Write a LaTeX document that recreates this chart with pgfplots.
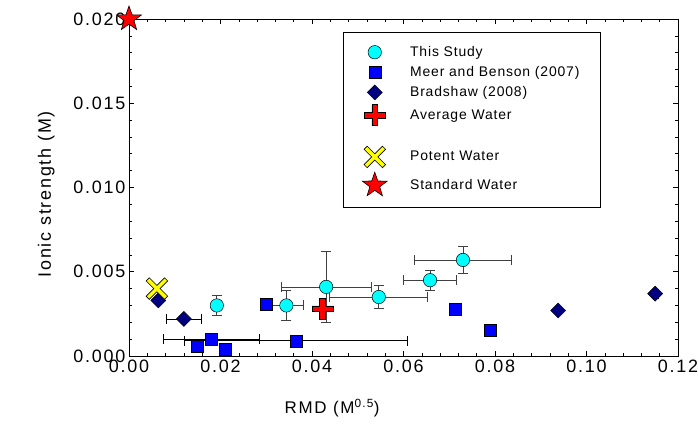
\documentclass[border=0pt]{standalone}
\usepackage{fontspec}
\setmainfont{Liberation Sans}[LetterSpace=10]
\newfontfamily\legfont{Liberation Sans}[LetterSpace=6]
\usepackage{pgfplots}
\usepackage{pgfplotstable}
\pgfplotsset{compat=1.18}
\definecolor{cyanc}{RGB}{0,255,255}
\definecolor{bluec}{RGB}{0,0,255}
\definecolor{navyc}{RGB}{0,0,128}
\definecolor{redc}{RGB}{255,0,0}
\definecolor{yellowc}{RGB}{255,255,0}
\definecolor{ebgray}{RGB}{64,64,64}

\pgfdeclareplotmark{fatplus}{%
  \pgfpathmoveto{\pgfpoint{-0.28\pgfplotmarksize}{\pgfplotmarksize}}%
  \pgfpathlineto{\pgfpoint{0.28\pgfplotmarksize}{\pgfplotmarksize}}%
  \pgfpathlineto{\pgfpoint{0.28\pgfplotmarksize}{0.28\pgfplotmarksize}}%
  \pgfpathlineto{\pgfpoint{\pgfplotmarksize}{0.28\pgfplotmarksize}}%
  \pgfpathlineto{\pgfpoint{\pgfplotmarksize}{-0.28\pgfplotmarksize}}%
  \pgfpathlineto{\pgfpoint{0.28\pgfplotmarksize}{-0.28\pgfplotmarksize}}%
  \pgfpathlineto{\pgfpoint{0.28\pgfplotmarksize}{-\pgfplotmarksize}}%
  \pgfpathlineto{\pgfpoint{-0.28\pgfplotmarksize}{-\pgfplotmarksize}}%
  \pgfpathlineto{\pgfpoint{-0.28\pgfplotmarksize}{-0.28\pgfplotmarksize}}%
  \pgfpathlineto{\pgfpoint{-\pgfplotmarksize}{-0.28\pgfplotmarksize}}%
  \pgfpathlineto{\pgfpoint{-\pgfplotmarksize}{0.28\pgfplotmarksize}}%
  \pgfpathlineto{\pgfpoint{-0.28\pgfplotmarksize}{0.28\pgfplotmarksize}}%
  \pgfpathclose\pgfusepathqfillstroke}
\pgfdeclareplotmark{thinplus}{%
  \pgfpathmoveto{\pgfpoint{-0.17\pgfplotmarksize}{\pgfplotmarksize}}%
  \pgfpathlineto{\pgfpoint{0.17\pgfplotmarksize}{\pgfplotmarksize}}%
  \pgfpathlineto{\pgfpoint{0.17\pgfplotmarksize}{0.17\pgfplotmarksize}}%
  \pgfpathlineto{\pgfpoint{\pgfplotmarksize}{0.17\pgfplotmarksize}}%
  \pgfpathlineto{\pgfpoint{\pgfplotmarksize}{-0.17\pgfplotmarksize}}%
  \pgfpathlineto{\pgfpoint{0.17\pgfplotmarksize}{-0.17\pgfplotmarksize}}%
  \pgfpathlineto{\pgfpoint{0.17\pgfplotmarksize}{-\pgfplotmarksize}}%
  \pgfpathlineto{\pgfpoint{-0.17\pgfplotmarksize}{-\pgfplotmarksize}}%
  \pgfpathlineto{\pgfpoint{-0.17\pgfplotmarksize}{-0.17\pgfplotmarksize}}%
  \pgfpathlineto{\pgfpoint{-\pgfplotmarksize}{-0.17\pgfplotmarksize}}%
  \pgfpathlineto{\pgfpoint{-\pgfplotmarksize}{0.17\pgfplotmarksize}}%
  \pgfpathlineto{\pgfpoint{-0.17\pgfplotmarksize}{0.17\pgfplotmarksize}}%
  \pgfpathclose\pgfusepathqfillstroke}
\pgfdeclareplotmark{fstar}{%
  \pgfpathmoveto{\pgfpointpolar{90}{\pgfplotmarksize}}%
  \pgfpathlineto{\pgfpointpolar{126}{0.40\pgfplotmarksize}}%
  \pgfpathlineto{\pgfpointpolar{162}{\pgfplotmarksize}}%
  \pgfpathlineto{\pgfpointpolar{198}{0.40\pgfplotmarksize}}%
  \pgfpathlineto{\pgfpointpolar{234}{\pgfplotmarksize}}%
  \pgfpathlineto{\pgfpointpolar{270}{0.40\pgfplotmarksize}}%
  \pgfpathlineto{\pgfpointpolar{306}{\pgfplotmarksize}}%
  \pgfpathlineto{\pgfpointpolar{342}{0.40\pgfplotmarksize}}%
  \pgfpathlineto{\pgfpointpolar{18}{\pgfplotmarksize}}%
  \pgfpathlineto{\pgfpointpolar{54}{0.40\pgfplotmarksize}}%
  \pgfpathclose\pgfusepathqfillstroke}

% markers
\pgfplotstableread{
x y
0.0192 0.0030
0.0344 0.0030
0.0431 0.0041
0.0546 0.0035
0.0658 0.0045
0.0730 0.0057
}\thisstudy
\pgfplotstableread{
x y
0.0149 0.0006
0.0179 0.0010
0.0210 0.0004
0.0300 0.0031
0.0365 0.0009
0.0713 0.0028
0.0789 0.0015
}\meer
\pgfplotstableread{
x y
0.0064 0.0033
0.0120 0.0022
0.0938 0.0027
0.1150 0.0037
}\bradshaw
% error bar end points (vertical bars of This Study)
\pgfplotstableread{
x y
0.0192 0.0024
0.0192 0.0036
nan nan
0.0344 0.0021
0.0344 0.0039
nan nan
0.0431 0.0020
0.0431 0.0062
nan nan
0.0546 0.0028
0.0546 0.0042
nan nan
0.0658 0.0039
0.0658 0.0051
nan nan
0.0730 0.0049
0.0730 0.0065
}\tsyerr
% horizontal bars of This Study
\pgfplotstableread{
x y
0.0308 0.0030
0.0380 0.0030
nan nan
0.0333 0.0041
0.0529 0.0041
nan nan
0.0439 0.0035
0.0653 0.0035
nan nan
0.0600 0.0045
0.0716 0.0045
nan nan
0.0624 0.0057
0.0836 0.0057
}\tsxerr
% horizontal bars of Meer and Benson and Bradshaw
\pgfplotstableread{
x y
0.0074 0.0010
0.0284 0.0010
nan nan
0.0121 0.0009
0.0609 0.0009
nan nan
0.0082 0.0022
0.0158 0.0022
nan nan
0.1144 0.0037
0.1156 0.0037
}\otherxerr

\begin{document}
\begin{tikzpicture}
\begin{axis}[
  scale only axis, width=549bp, height=337bp,
  xmin=0, xmax=0.12, ymin=0, ymax=0.020,
  xtick={0,0.02,0.04,0.06,0.08,0.10,0.12},
  ytick={0,0.005,0.010,0.015,0.020},
  minor x tick num=4, minor y tick num=4,
  tick align=inside,
  major tick length=5bp, minor tick length=3bp,
  tick style={black, line width=0.6bp},
  scaled ticks=false,
  xticklabel style={/pgf/number format/.cd, fixed, fixed zerofill, precision=2},
  yticklabel style={/pgf/number format/.cd, fixed, fixed zerofill, precision=3},
  /pgf/number format/assume math mode=true,
  tick label style={font=\fontsize{18}{21}\selectfont},
  xlabel={RMD (M\textsuperscript{0.5})},
  ylabel={Ionic strength (M)},
  xlabel style={font=\fontsize{17}{20}\selectfont, at={(ticklabel cs:0.37,20bp)}, anchor=near ticklabel},
  ylabel style={font=\fontsize{18}{21}\selectfont, at={(ticklabel cs:0.48,12bp)}, anchor=near ticklabel},
  axis line style={line width=0.8bp},
  clip=false,
  unbounded coords=jump,
  legend cell align=left,
  legend style={at={(0.39,0.961)}, anchor=north west, draw=black, line width=0.6bp,
    inner xsep=19bp, inner ysep=12bp, row sep=4.5bp, column sep=21bp,
    font=\fontsize{14}{17}\legfont},
]
\coordinate (SW) at (rel axis cs:0,0);
\coordinate (NE) at (rel axis cs:1,1);
% error bars (drawn first, under the markers)
\addplot[forget plot, draw=ebgray, line width=0.7bp, mark=-, mark size=5bp,
  mark options={draw=ebgray, line width=0.7bp}] table[x=x, y=y]{\tsyerr};
\addplot[forget plot, draw=ebgray, line width=0.7bp, mark=|, mark size=5bp,
  mark options={draw=ebgray, line width=0.7bp}] table[x=x, y=y]{\tsxerr};
\addplot[forget plot, draw=black, line width=0.7bp, mark=|, mark size=5bp,
  mark options={draw=black, line width=0.7bp}] table[x=x, y=y]{\otherxerr};
% markers
\addplot[only marks, mark=*, mark size=6.7bp,
  mark options={fill=cyanc, draw=black, line width=0.5bp}]
  table[x=x, y=y]{\thisstudy};
\addlegendentry{This Study}
\addplot[only marks, mark=square*, mark size=6bp,
  mark options={fill=bluec, draw=black, line width=0.5bp}]
  table[x=x, y=y]{\meer};
\addlegendentry{Meer and Benson (2007)}
\addplot[only marks, mark=square*, mark size=5.3bp,
  mark options={fill=navyc, draw=black, line width=0.5bp, rotate=45}]
  table[x=x, y=y]{\bradshaw};
\addlegendentry{Bradshaw (2008)}
\addplot[only marks, mark=fatplus, mark size=10.5bp,
  mark options={fill=redc, draw=black, line width=0.6bp}]
  coordinates {(0.0423,0.0028)};
\addlegendentry{Average Water}
\addlegendimage{empty legend}
\addlegendentry{\rule{0pt}{6bp}}
\addplot[only marks, mark=thinplus, mark size=13bp,
  mark options={fill=yellowc, draw=black, line width=0.6bp, rotate=45}]
  coordinates {(0.0061,0.0040)};
\addlegendentry{Potent Water}
\addplot[only marks, mark=fstar, mark size=13bp,
  mark options={fill=redc, draw=black, line width=0.6bp}]
  coordinates {(0,0.020)};
\addlegendentry{Standard Water}
\end{axis}
\pgfresetboundingbox
\path ([shift={(-129bp,-74bp)}]SW) rectangle ([shift={(20bp,19bp)}]NE);
\end{tikzpicture}
\end{document}
